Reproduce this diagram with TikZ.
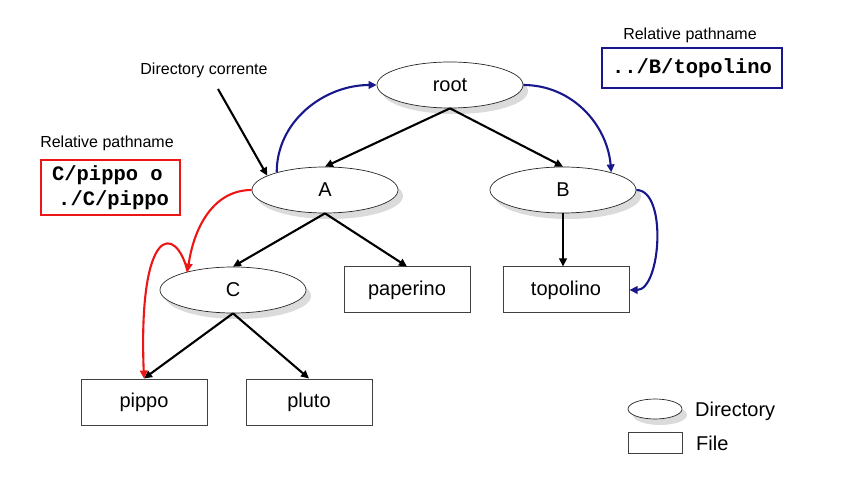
\documentclass[tikz,border=0pt]{standalone}
\usepackage{fontspec}
\setmainfont{Liberation Sans}
\newfontfamily\codefont{Liberation Mono}
\usetikzlibrary{arrows.meta,shadows,shapes.geometric}
\definecolor{navy}{RGB}{24,24,140}
\definecolor{redpath}{RGB}{236,22,22}
\begin{document}
\begin{tikzpicture}[x=1pt,y=-1pt,
    dir/.style={ellipse,draw=black!85,line width=0.7pt,fill=white,minimum width=146pt,minimum height=46pt,inner sep=0pt,
      font=\fontsize{20}{24}\selectfont,drop shadow={shadow xshift=5pt,shadow yshift=-6pt,fill=black!14,opacity=1}},
    file/.style={draw=black!75,line width=1pt,fill=white,minimum width=126pt,minimum height=46pt,inner sep=0pt,
      font=\fontsize{20}{24}\selectfont},
    tree/.style={line width=2.1pt,-{Triangle[length=8pt,width=7.5pt]}},
    toparent/.style={tree,draw=navy},
    tochild/.style={tree,draw=redpath},
    note/.style={font=\fontsize{16}{19}\selectfont},
    pathbox/.style={line width=2.5pt,fill=white,inner sep=0pt,align=left,
      font=\codefont\bfseries\fontsize{20.5}{25}\selectfont}]
    \useasboundingbox (0,0) rectangle (843,502);
    % directories and files
    \node[dir] (root) at (450,85) {root};
    \node[dir] (A) at (325,190) {A};
    \node[dir] (B) at (563,190) {B};
    \node[dir] (C) at (233,290) {C};
    \node[file] (paperino) at (407,290) {paperino};
    \node[file] (topolino) at (566,290) {topolino};
    \node[file] (pippo) at (144,402) {pippo};
    \node[file] (pluto) at (309,402) {pluto};
    \draw[tree] (root.south) -- (A.north);
    \draw[tree] (root.south) -- (B.north);
    \draw[tree] (A.south) -- (C.north);
    \draw[tree] (A.south) -- (paperino.north);
    \draw[tree] (B.south) -- (B.south |- topolino.north);
    \draw[tree] (C.south) -- (pippo.north);
    \draw[tree] (C.south) -- (pluto.north);
    % current directory
    \node[note] (current) at (204,70) {Directory corrente};
    \coordinate (cur) at (218,89);
    \draw[tree] (cur) -- (A.166);
    % relative pathnames
    \node[note] (relred) at (107,143) {Relative pathname};
    \node[pathbox,draw=redpath,minimum width=139pt,minimum height=55pt] (redbox) at (110.5,187.5)
      {C/pippo o\\\hspace*{0.3em}./C/pippo};
    \node[note] (relblue) at (690,35) {Relative pathname};
    \node[pathbox,draw=navy,minimum width=180pt,minimum height=40pt] (bluebox) at (692,68) {../B/topolino};
    \draw[tochild] (A.west) to[out=180,in=82] (C.158);
    \draw[tochild] (C.158) .. controls (176,224) and (138,224) .. (pippo.north);
    \draw[toparent] (A.160) to[out=90,in=180] (root.west);
    \draw[toparent] (root.east) to[out=0,in=95] (B.20);
    \draw[toparent] (B.east) to[out=0,in=0,looseness=0.8] (topolino.east);
    % legend
    \node[dir,minimum width=54pt,minimum height=20pt] (legdir) at (655,409) {};
    \node[file,minimum width=54pt,minimum height=21pt] (legfile) at (655,442.5) {};
    \node[anchor=west,font=\fontsize{20}{24}\selectfont,inner sep=0pt] (legdirtext) at (695,411) {Directory};
    \node[anchor=west,font=\fontsize{20}{24}\selectfont,inner sep=0pt] (legfiletext) at (696,443) {File};
\end{tikzpicture}
\end{document}
